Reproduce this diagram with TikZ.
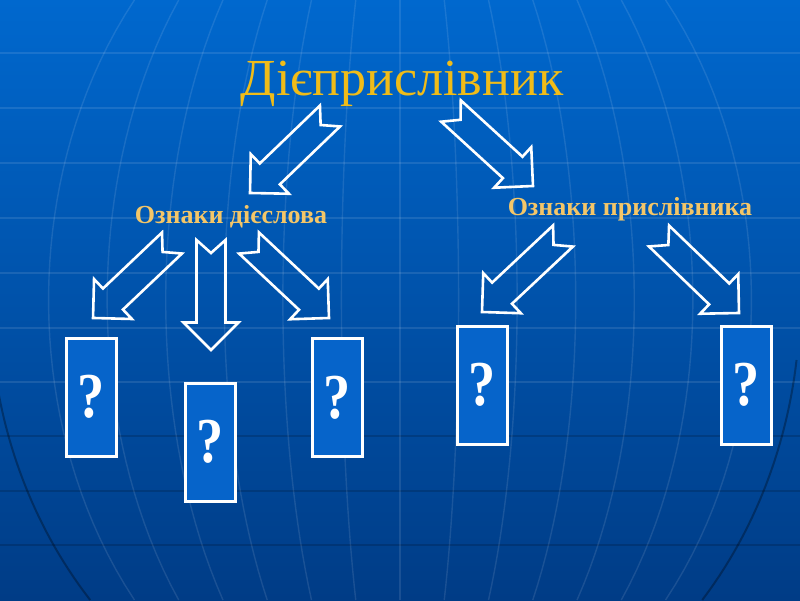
\documentclass[tikz,border=0pt]{standalone}
\usepackage{fontspec}
\setmainfont{Liberation Serif}
\usetikzlibrary{calc}
\definecolor{bgtop}{RGB}{0,104,206}
\definecolor{bgbot}{RGB}{0,60,134}
\definecolor{titlegold}{RGB}{240,188,24}
\definecolor{labelgold}{RGB}{244,198,104}
\definecolor{boxblue}{RGB}{6,100,202}
\tikzset{
  blockarr/.style={draw=white, line width=2.6pt, line join=miter},
  qbox/.style={draw=white, line width=3pt, fill=boxblue, minimum width=50pt,
    minimum height=118pt, inner sep=0pt, text=white,
    font=\bfseries\fontsize{64}{64}\selectfont},
  titletext/.style={text=titlegold, font=\fontsize{52}{52}\selectfont, inner sep=0pt, anchor=base},
  subtext/.style={text=labelgold, font=\bfseries\fontsize{26}{26}\selectfont, inner sep=0pt, anchor=base},
  gridlight/.style={draw=white, opacity=0.1, line width=1.4pt},
  griddark/.style={draw=black, opacity=0.16, line width=1.4pt},
  globeline/.style={draw=black, opacity=0.3, line width=2pt}
}
\newcommand\blockarrow[2]{%
  \draw[blockarr] let \p1=(#1), \p2=(#2), \n1={atan2(\y2-\y1,\x2-\x1)},
    \n2={veclen(\x2-\x1,\y2-\y1)} in
    [shift={(\x1,\y1)}, rotate=\n1]
    (0,-14.5) -- ({\n2-27.5},-14.5) -- ({\n2-27.5},-27.5) -- ({\n2},0)
    -- ({\n2-27.5},27.5) -- ({\n2-27.5},14.5) -- (0,14.5) -- (13,0) -- cycle;}
\newcommand\qmark{\scalebox{0.85}[1]{?}}
\begin{document}
\begin{tikzpicture}[x=1pt,y=-1pt]
\useasboundingbox (0,0) rectangle (800,600);
\shade[top color=bgtop, bottom color=bgbot] (0,0) rectangle (800,600);
% background grid
\foreach \yy in {53,108,163,218,273,328,382} {\draw[gridlight] (0,\yy) -- (800,\yy);}
\foreach \yy in {436,491,545} {\draw[griddark] (0,\yy) -- (800,\yy);}
\foreach \j in {-6,...,6} {
  \draw[gridlight] plot[domain=0:600, samples=40] ({400+\j/7*410*sqrt(1-((\x-300)/458)^2)}, \x);
}
\draw[globeline] plot[domain=380:600, samples=30] ({400-410*sqrt(1-((\x-300)/458)^2)}, \x);
\draw[globeline] plot[domain=360:600, samples=30] ({400+400*sqrt(1-((\x-300)/458)^2)}, \x);
% texts
\node[titletext] (title) at (402,95) {Дієприслівник};
\node[subtext] (verb) at (231,223) {Ознаки дієслова};
\node[subtext] (adv) at (630,215) {Ознаки прислівника};
% boxes
\node[qbox] (q1) at (91,397) {\qmark};
\node[qbox] (q2) at (210.5,442) {\qmark};
\node[qbox] (q3) at (337,397.5) {\qmark};
\node[qbox] (q4) at (482,385) {\qmark};
\node[qbox] (q5) at (746,385) {\qmark};
% arrow ends
\coordinate (aS) at (330,116); \coordinate (aE) at (250,193);
\coordinate (bS) at (451,111); \coordinate (bE) at (533,186);
\coordinate (cS) at (172,243); \coordinate (cE) at (93,318);
\coordinate (dS) at (211,240); \coordinate (dE) at (211,350);
\coordinate (eS) at (249,243); \coordinate (eE) at (329,318);
\coordinate (fS) at (563,236); \coordinate (fE) at (482,312);
\coordinate (gS) at (659,236); \coordinate (gE) at (739,313);
\blockarrow{aS}{aE}
\blockarrow{bS}{bE}
\blockarrow{cS}{cE}
\blockarrow{dS}{dE}
\blockarrow{eS}{eE}
\blockarrow{fS}{fE}
\blockarrow{gS}{gE}
\end{tikzpicture}
\end{document}
